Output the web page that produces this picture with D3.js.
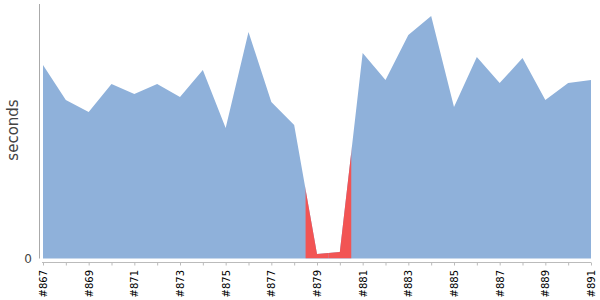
<!doctype html>
<html>
<head>
<meta charset="utf-8">
<script src="https://d3js.org/d3.v7.min.js"></script>
<style>
  body { margin: 0; background: #fff; }
  svg text { font-family: "DejaVu Sans", Verdana, sans-serif; }
</style>
</head>
<body>
<svg id="chart" width="600" height="300"></svg>
<script>
// build numbers and duration (seconds)
var builds = [867, 868, 869, 870, 871, 872, 873, 874, 875, 876, 877, 878, 879,
              880, 881, 882, 883, 884, 885, 886, 887, 888, 889, 890, 891];
var seconds = [76.2, 62.4, 57.7, 68.7, 64.8, 68.7, 63.6, 74.2, 51.4, 89.2, 61.6, 52.6, 1.8,
               2.6, 80.9, 70.3, 88.0, 95.5, 59.6, 79.3, 69.1, 78.9, 62.4, 69.1, 70.3];
var failed = [879, 880];
var tickBuilds = [867, 869, 871, 873, 875, 877, 879, 881, 883, 885, 887, 889, 891];
var yTicks = [0];

var svg = d3.select("#chart");

var x = d3.scaleLinear().domain([867, 891]).range([43, 591]);
var y = d3.scaleLinear().domain([0, 100]).range([258.5, 4.5]);

var data = builds.map(function(b, i) { return { build: b, value: seconds[i] }; });

var area = d3.area()
    .x(function(d) { return x(d.build); })
    .y0(y(0))
    .y1(function(d) { return y(d.value); });

svg.append("clipPath").attr("id", "areaClip")
    .append("path").attr("d", area(data));

svg.append("path")
    .attr("d", area(data))
    .attr("fill", "#8fb1da");

// failed builds get their band coloured red
svg.append("g").attr("clip-path", "url(#areaClip)")
  .selectAll("rect").data(failed).enter().append("rect")
    .attr("x", function(d) { return x(d - 0.5); })
    .attr("width", function(d) { return x(d + 0.5) - x(d - 0.5); })
    .attr("y", 0)
    .attr("height", y(0))
    .attr("fill", "#f25454");

// y axis
svg.append("line")
    .attr("x1", 39.5).attr("x2", 39.5)
    .attr("y1", 4).attr("y2", 258.5)
    .attr("stroke", "#aaa");

svg.append("g").selectAll("text").data(yTicks).enter().append("text")
    .attr("x", 32).attr("y", function(d) { return y(d); })
    .attr("dy", "0.35em")
    .attr("text-anchor", "end")
    .attr("font-size", 12)
    .attr("fill", "#444")
    .text(function(d) { return d; });

svg.append("text")
    .attr("transform", "translate(18,130) rotate(-90)")
    .attr("text-anchor", "middle")
    .attr("font-size", 15)
    .attr("fill", "#444")
    .text("seconds");

// x axis
var xAxis = d3.axisBottom(x)
    .tickValues(builds)
    .tickSize(3)
    .tickFormat(function(d) { return tickBuilds.indexOf(d) >= 0 ? "#" + d : ""; });

var gx = svg.append("g")
    .attr("transform", "translate(0,262.5)")
    .call(xAxis);
gx.select(".domain").attr("stroke", "#bbb").attr("d", "M42,0H591");
gx.selectAll(".tick line").attr("stroke", "#bbb");
gx.selectAll(".tick text")
    .attr("font-size", 10)
    .attr("fill", "#000")
    .attr("text-anchor", "end")
    .attr("transform", "rotate(-90)")
    .attr("x", -7.5)
    .attr("y", 0)
    .attr("dy", "0.35em");
</script>
</body>
</html>
